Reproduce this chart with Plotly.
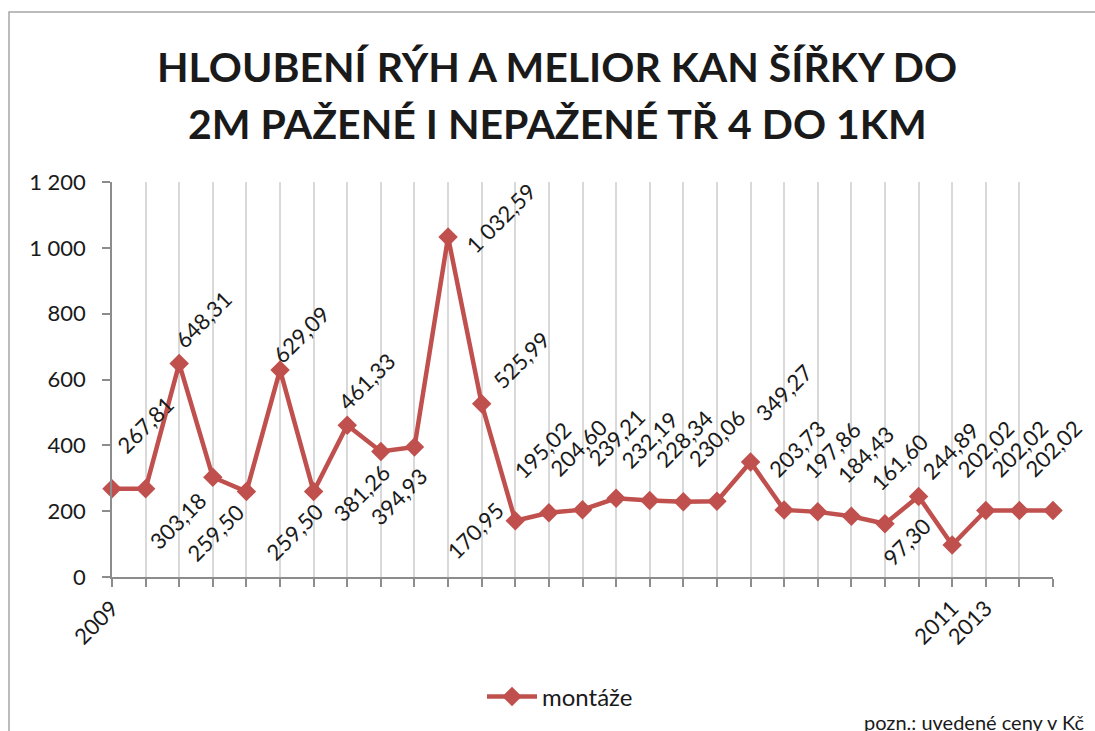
import plotly.graph_objects as go

# ---- data ----
positions = list(range(29))
tick_labels = ["2009"] + [""] * 24 + ["2011", "2013", "", ""]
values = [267.81, 267.81, 648.31, 303.18, 259.50, 629.09, 259.50, 461.33, 381.26,
          394.93, 1032.59, 525.99, 170.95, 195.02, 204.60, 239.21, 232.19, 228.34,
          230.06, 349.27, 203.73, 197.86, 184.43, 161.60, 244.89, 97.30, 202.02,
          202.02, 202.02]
series_name = "montáže"
y_ticks = [0, 200, 400, 600, 800, 1000, 1200]
y_tick_text = ["0", "200", "400", "600", "800", "1 000", "1 200"]
title_lines = ["HLOUBENÍ RÝH A MELIOR KAN ŠÍŘKY DO", "2M PAŽENÉ I NEPAŽENÉ TŘ 4 DO 1KM"]
note_text = "pozn.: uvedené ceny v Kč"

# ---- style: label offsets in pixels (dx right, dy down) ----
label_offsets = [None, (0, -64), (24, -44), (-35, 43), (-31, 41), (21, -35), (-19, 40),
                 (19, -44), (-19, 41), (-16, 49), (52, -19), (40, -44), (-40, 10),
                 (-6, -63), (-4, -62), (0, -61), (0, -61), (1, -63), (0, -64),
                 (33, -70), (13, -61), (15, -62), (14, -62), (15, -62), (32, -46),
                 (-45, -3), (0, -62), (0, -62), (0, -62)]

FONT = "Lato"
RED = "#c0504d"
TXT = "#1a1a1a"
W, H = 1095, 731
ML, MT, PW, PH = 112, 182, 941, 395


def cz(v):
    s = f"{v:,.2f}"
    return s.replace(",", " ").replace(".", ",")


fig = go.Figure()
fig.add_trace(go.Scatter(
    x=positions, y=values, mode="lines+markers", name=series_name,
    line=dict(color=RED, width=4.5),
    marker=dict(symbol="diamond", size=15, color=RED),
    cliponaxis=False,
))

annotations = []
for xi, v, off in zip(positions, values, label_offsets):
    if off is None:
        continue
    annotations.append(dict(
        x=xi, y=v, xref="x", yref="y", text=cz(v), showarrow=False,
        textangle=-45, xanchor="center", yanchor="middle",
        xshift=off[0], yshift=-off[1],
        font=dict(family=FONT, size=22, color=TXT),
    ))


def px_to_paper(px, py):
    return (px - ML) / PW, (MT + PH - py) / PH


for line, cy in zip(title_lines, [66, 123]):
    tx, ty = px_to_paper(557, cy)
    annotations.append(dict(
        x=tx, y=ty, xref="paper", yref="paper", text=line, showarrow=False,
        xanchor="center", yanchor="middle",
        font=dict(family=FONT, size=41, color=TXT, weight="bold"),
    ))

nx, ny = px_to_paper(1086, 722)
annotations.append(dict(
    x=nx, y=ny, xref="paper", yref="paper", text=note_text,
    showarrow=False, xanchor="right", yanchor="middle",
    font=dict(family=FONT, size=20, color=TXT),
))

lx, ly = px_to_paper(560, 697)
bx0, by1 = px_to_paper(9, 12)
bx1, by0 = px_to_paper(1300, 800)

fig.update_layout(
    width=W, height=H,
    margin=dict(l=ML, r=W - ML - PW, t=MT, b=H - MT - PH),
    paper_bgcolor="white", plot_bgcolor="white",
    xaxis=dict(
        range=[0, 28], tickmode="array", tickvals=positions, ticktext=tick_labels,
        tickangle=-45, showgrid=True, gridcolor="#d9d9d9", gridwidth=1.5,
        showline=True, linecolor="#8c8c8c", linewidth=1.5,
        ticks="outside", ticklen=8, tickcolor="#8c8c8c", tickwidth=1.5,
        tickfont=dict(family=FONT, size=22, color=TXT),
        zeroline=False, fixedrange=True,
    ),
    yaxis=dict(
        range=[0, 1200], tickmode="array", tickvals=y_ticks, ticktext=y_tick_text,
        showgrid=False, showline=True, linecolor="#8c8c8c", linewidth=1.5,
        ticks="outside", ticklen=8, tickcolor="#8c8c8c", tickwidth=1.5,
        tickfont=dict(family=FONT, size=22, color=TXT),
        ticklabelstandoff=12, zeroline=False, fixedrange=True,
    ),
    showlegend=True,
    legend=dict(
        orientation="h", x=lx, xanchor="center", y=ly, yanchor="middle",
        font=dict(family=FONT, size=24, color=TXT), bgcolor="rgba(0,0,0,0)",
        itemwidth=50,
    ),
    annotations=annotations,
    shapes=[dict(type="rect", xref="paper", yref="paper",
                 x0=bx0, x1=bx1, y0=by0, y1=by1,
                 line=dict(color="#a6a6a6", width=1.5), layer="below")],
)

fig.write_html(
    "out.html",
    config={"displayModeBar": False},
    post_script="document.body.style.margin='0';document.body.style.overflow='hidden';",
)
